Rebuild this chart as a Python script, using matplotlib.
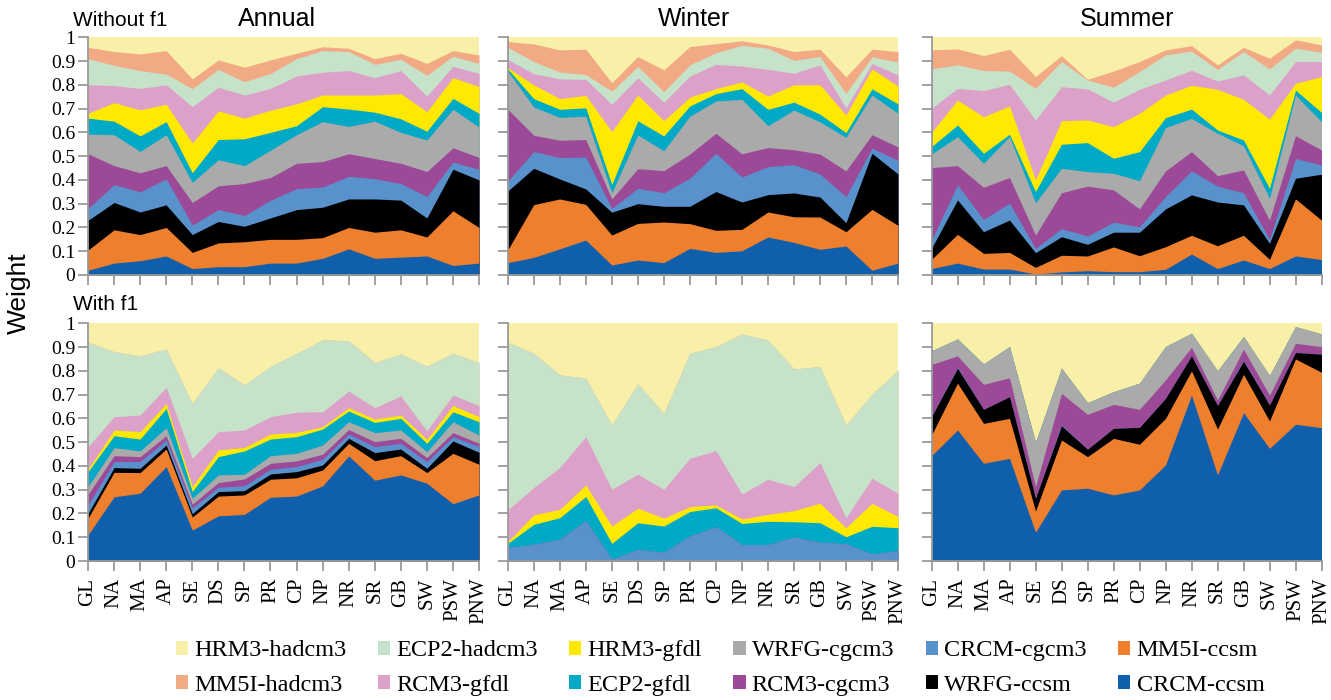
import numpy as np
import matplotlib
matplotlib.use("Agg")
import matplotlib.pyplot as plt
from matplotlib.patches import Patch

regions = ["GL", "NA", "MA", "AP", "SE", "DS", "SP", "PR", "CP", "NP", "NR", "SR", "GB", "SW", "PSW", "PNW"]

# stacking order, bottom to top
models = ["CRCM-ccsm", "MM5I-ccsm", "WRFG-ccsm", "CRCM-cgcm3", "RCM3-cgcm3", "WRFG-cgcm3",
          "ECP2-gfdl", "HRM3-gfdl", "RCM3-gfdl", "ECP2-hadcm3", "MM5I-hadcm3", "HRM3-hadcm3"]

model_colors = {
    "CRCM-ccsm": "#0F5FAD",
    "MM5I-ccsm": "#EE7F2D",
    "WRFG-ccsm": "#000000",
    "CRCM-cgcm3": "#5891CC",
    "RCM3-cgcm3": "#9C4A97",
    "WRFG-cgcm3": "#AAAAAA",
    "ECP2-gfdl": "#00A9C5",
    "HRM3-gfdl": "#FFE900",
    "RCM3-gfdl": "#DCA1C8",
    "ECP2-hadcm3": "#C6E3CA",
    "MM5I-hadcm3": "#F2AA84",
    "HRM3-hadcm3": "#F8F0A8",
}

annual_without = {
    "CRCM-ccsm":   [0.020, 0.050, 0.060, 0.080, 0.027, 0.035, 0.035, 0.050, 0.050, 0.070, 0.110, 0.070, 0.075, 0.080, 0.040, 0.050],
    "MM5I-ccsm":   [0.085, 0.140, 0.110, 0.120, 0.068, 0.100, 0.105, 0.100, 0.100, 0.087, 0.090, 0.110, 0.115, 0.080, 0.230, 0.150],
    "WRFG-ccsm":   [0.125, 0.115, 0.095, 0.095, 0.075, 0.090, 0.065, 0.090, 0.125, 0.128, 0.120, 0.140, 0.125, 0.080, 0.175, 0.200],
    "CRCM-cgcm3":  [0.050, 0.075, 0.085, 0.110, 0.040, 0.050, 0.045, 0.075, 0.088, 0.085, 0.095, 0.085, 0.070, 0.090, 0.030, 0.045],
    "RCM3-cgcm3":  [0.230, 0.080, 0.080, 0.055, 0.095, 0.100, 0.135, 0.095, 0.107, 0.107, 0.095, 0.085, 0.085, 0.105, 0.060, 0.050],
    "WRFG-cgcm3":  [0.083, 0.130, 0.090, 0.130, 0.085, 0.110, 0.075, 0.115, 0.120, 0.168, 0.115, 0.157, 0.130, 0.133, 0.162, 0.128],
    "ECP2-gfdl":   [0.067, 0.057, 0.065, 0.055, 0.040, 0.085, 0.113, 0.075, 0.038, 0.063, 0.073, 0.038, 0.057, 0.037, 0.046, 0.057],
    "HRM3-gfdl":   [0.020, 0.078, 0.110, 0.073, 0.125, 0.120, 0.087, 0.093, 0.092, 0.049, 0.059, 0.072, 0.106, 0.082, 0.087, 0.113],
    "RCM3-gfdl":   [0.120, 0.072, 0.090, 0.082, 0.153, 0.100, 0.097, 0.092, 0.117, 0.096, 0.103, 0.073, 0.097, 0.066, 0.048, 0.055],
    "ECP2-hadcm3": [0.110, 0.085, 0.075, 0.045, 0.076, 0.075, 0.056, 0.063, 0.073, 0.091, 0.080, 0.056, 0.047, 0.087, 0.042, 0.042],
    "MM5I-hadcm3": [0.048, 0.058, 0.070, 0.099, 0.041, 0.040, 0.061, 0.057, 0.023, 0.016, 0.014, 0.024, 0.026, 0.050, 0.024, 0.036],
    "HRM3-hadcm3": [0.042, 0.060, 0.070, 0.056, 0.175, 0.095, 0.126, 0.095, 0.067, 0.040, 0.046, 0.090, 0.067, 0.110, 0.056, 0.074],
}

winter_without = {
    "CRCM-ccsm":   [0.052, 0.074, 0.110, 0.147, 0.042, 0.063, 0.052, 0.112, 0.095, 0.102, 0.160, 0.137, 0.108, 0.122, 0.020, 0.050],
    "MM5I-ccsm":   [0.053, 0.222, 0.210, 0.150, 0.126, 0.154, 0.171, 0.104, 0.093, 0.090, 0.105, 0.108, 0.136, 0.060, 0.256, 0.159],
    "WRFG-ccsm":   [0.248, 0.153, 0.084, 0.065, 0.096, 0.083, 0.066, 0.073, 0.163, 0.115, 0.073, 0.100, 0.084, 0.038, 0.236, 0.216],
    "CRCM-cgcm3":  [0.042, 0.070, 0.090, 0.134, 0.016, 0.065, 0.057, 0.118, 0.161, 0.105, 0.118, 0.119, 0.097, 0.110, 0.022, 0.057],
    "RCM3-cgcm3":  [0.303, 0.069, 0.073, 0.074, 0.040, 0.082, 0.093, 0.102, 0.084, 0.098, 0.080, 0.063, 0.084, 0.108, 0.056, 0.057],
    "WRFG-cgcm3":  [0.160, 0.119, 0.096, 0.098, 0.026, 0.142, 0.084, 0.159, 0.136, 0.229, 0.092, 0.167, 0.135, 0.141, 0.167, 0.141],
    "ECP2-gfdl":   [0.009, 0.035, 0.034, 0.035, 0.035, 0.060, 0.062, 0.043, 0.031, 0.045, 0.069, 0.033, 0.033, 0.020, 0.026, 0.040],
    "HRM3-gfdl":   [0.005, 0.058, 0.045, 0.053, 0.222, 0.108, 0.064, 0.037, 0.021, 0.028, 0.056, 0.073, 0.123, 0.074, 0.084, 0.075],
    "RCM3-gfdl":   [0.035, 0.047, 0.083, 0.067, 0.115, 0.073, 0.078, 0.089, 0.102, 0.067, 0.112, 0.049, 0.084, 0.030, 0.023, 0.047],
    "ECP2-hadcm3": [0.051, 0.051, 0.029, 0.020, 0.055, 0.047, 0.044, 0.047, 0.049, 0.087, 0.089, 0.054, 0.035, 0.061, 0.027, 0.054],
    "MM5I-hadcm3": [0.024, 0.074, 0.093, 0.107, 0.036, 0.042, 0.092, 0.077, 0.038, 0.019, 0.014, 0.037, 0.031, 0.070, 0.033, 0.044],
    "HRM3-hadcm3": [0.018, 0.028, 0.053, 0.050, 0.191, 0.081, 0.137, 0.039, 0.027, 0.015, 0.032, 0.060, 0.050, 0.166, 0.050, 0.060],
}

summer_without = {
    "CRCM-ccsm":   [0.027, 0.050, 0.025, 0.025, 0.004, 0.013, 0.018, 0.014, 0.014, 0.024, 0.088, 0.027, 0.063, 0.027, 0.080, 0.065],
    "MM5I-ccsm":   [0.039, 0.121, 0.066, 0.070, 0.028, 0.070, 0.062, 0.104, 0.067, 0.095, 0.079, 0.096, 0.104, 0.039, 0.240, 0.166],
    "WRFG-ccsm":   [0.046, 0.145, 0.091, 0.136, 0.062, 0.078, 0.049, 0.062, 0.099, 0.159, 0.170, 0.184, 0.128, 0.067, 0.087, 0.193],
    "CRCM-cgcm3":  [0.035, 0.063, 0.052, 0.071, 0.018, 0.034, 0.035, 0.042, 0.023, 0.052, 0.101, 0.067, 0.051, 0.017, 0.083, 0.039],
    "RCM3-cgcm3":  [0.305, 0.081, 0.135, 0.108, 0.056, 0.151, 0.210, 0.136, 0.075, 0.108, 0.081, 0.044, 0.096, 0.081, 0.096, 0.063],
    "WRFG-cgcm3":  [0.057, 0.122, 0.101, 0.172, 0.136, 0.103, 0.061, 0.070, 0.119, 0.182, 0.140, 0.178, 0.102, 0.092, 0.171, 0.119],
    "ECP2-gfdl":   [0.031, 0.049, 0.042, 0.010, 0.047, 0.101, 0.122, 0.063, 0.122, 0.042, 0.039, 0.014, 0.024, 0.042, 0.021, 0.039],
    "HRM3-gfdl":   [0.060, 0.105, 0.154, 0.119, 0.049, 0.099, 0.095, 0.133, 0.161, 0.095, 0.100, 0.171, 0.171, 0.291, 0.028, 0.151],
    "RCM3-gfdl":   [0.101, 0.049, 0.110, 0.091, 0.252, 0.143, 0.131, 0.103, 0.101, 0.063, 0.063, 0.035, 0.103, 0.101, 0.092, 0.063],
    "ECP2-hadcm3": [0.166, 0.099, 0.084, 0.056, 0.133, 0.106, 0.037, 0.063, 0.075, 0.106, 0.081, 0.049, 0.098, 0.110, 0.056, 0.039],
    "MM5I-hadcm3": [0.080, 0.067, 0.063, 0.092, 0.050, 0.025, 0.003, 0.068, 0.042, 0.021, 0.023, 0.019, 0.018, 0.045, 0.035, 0.031],
    "HRM3-hadcm3": [0.053, 0.049, 0.077, 0.050, 0.165, 0.077, 0.177, 0.142, 0.102, 0.053, 0.035, 0.116, 0.042, 0.088, 0.011, 0.032],
}

annual_with = {
    "CRCM-ccsm":   [0.110, 0.270, 0.285, 0.397, 0.130, 0.190, 0.196, 0.268, 0.273, 0.316, 0.442, 0.340, 0.362, 0.327, 0.241, 0.278],
    "MM5I-ccsm":   [0.070, 0.103, 0.087, 0.074, 0.055, 0.083, 0.082, 0.076, 0.077, 0.067, 0.053, 0.082, 0.081, 0.045, 0.212, 0.129],
    "WRFG-ccsm":   [0.020, 0.020, 0.018, 0.017, 0.014, 0.019, 0.018, 0.022, 0.026, 0.021, 0.021, 0.034, 0.028, 0.018, 0.052, 0.050],
    "CRCM-cgcm3":  [0.036, 0.025, 0.028, 0.021, 0.025, 0.018, 0.021, 0.020, 0.021, 0.024, 0.018, 0.025, 0.024, 0.028, 0.018, 0.024],
    "RCM3-cgcm3":  [0.044, 0.025, 0.021, 0.018, 0.015, 0.020, 0.028, 0.025, 0.024, 0.021, 0.019, 0.021, 0.021, 0.017, 0.017, 0.014],
    "WRFG-cgcm3":  [0.033, 0.034, 0.024, 0.034, 0.025, 0.032, 0.020, 0.032, 0.032, 0.039, 0.033, 0.038, 0.035, 0.025, 0.046, 0.035],
    "ECP2-gfdl":   [0.063, 0.050, 0.050, 0.081, 0.028, 0.077, 0.098, 0.070, 0.070, 0.067, 0.045, 0.043, 0.049, 0.035, 0.042, 0.056],
    "HRM3-gfdl":   [0.011, 0.024, 0.031, 0.020, 0.021, 0.028, 0.015, 0.021, 0.018, 0.010, 0.014, 0.014, 0.014, 0.017, 0.026, 0.021],
    "RCM3-gfdl":   [0.094, 0.056, 0.070, 0.069, 0.119, 0.077, 0.073, 0.073, 0.085, 0.063, 0.070, 0.048, 0.080, 0.036, 0.044, 0.047],
    "ECP2-hadcm3": [0.439, 0.274, 0.249, 0.161, 0.231, 0.269, 0.190, 0.211, 0.248, 0.302, 0.212, 0.190, 0.177, 0.272, 0.176, 0.181],
    "MM5I-hadcm3": [0.000, 0.000, 0.000, 0.000, 0.000, 0.000, 0.000, 0.000, 0.000, 0.000, 0.000, 0.000, 0.000, 0.000, 0.000, 0.000],
    "HRM3-hadcm3": [0.080, 0.119, 0.137, 0.108, 0.337, 0.187, 0.259, 0.182, 0.126, 0.070, 0.073, 0.165, 0.129, 0.180, 0.126, 0.165],
}

winter_with = {
    "CRCM-ccsm":   [0.000, 0.000, 0.000, 0.000, 0.000, 0.000, 0.000, 0.000, 0.000, 0.000, 0.000, 0.000, 0.000, 0.000, 0.000, 0.000],
    "MM5I-ccsm":   [0.000, 0.000, 0.000, 0.000, 0.000, 0.000, 0.000, 0.000, 0.000, 0.000, 0.000, 0.000, 0.000, 0.000, 0.000, 0.000],
    "WRFG-ccsm":   [0.000, 0.000, 0.000, 0.000, 0.000, 0.000, 0.000, 0.000, 0.000, 0.000, 0.000, 0.000, 0.000, 0.000, 0.000, 0.000],
    "CRCM-cgcm3":  [0.056, 0.070, 0.091, 0.170, 0.007, 0.049, 0.036, 0.105, 0.144, 0.069, 0.069, 0.100, 0.079, 0.072, 0.029, 0.043],
    "RCM3-cgcm3":  [0.000, 0.000, 0.000, 0.000, 0.000, 0.000, 0.000, 0.000, 0.000, 0.000, 0.000, 0.000, 0.000, 0.000, 0.000, 0.000],
    "WRFG-cgcm3":  [0.000, 0.000, 0.000, 0.000, 0.000, 0.000, 0.000, 0.000, 0.000, 0.000, 0.000, 0.000, 0.000, 0.000, 0.000, 0.000],
    "ECP2-gfdl":   [0.018, 0.084, 0.091, 0.101, 0.067, 0.112, 0.111, 0.103, 0.080, 0.089, 0.098, 0.065, 0.082, 0.030, 0.117, 0.097],
    "HRM3-gfdl":   [0.007, 0.040, 0.035, 0.049, 0.073, 0.061, 0.033, 0.021, 0.012, 0.019, 0.029, 0.047, 0.082, 0.038, 0.097, 0.047],
    "RCM3-gfdl":   [0.134, 0.115, 0.176, 0.203, 0.155, 0.143, 0.122, 0.203, 0.228, 0.105, 0.148, 0.101, 0.171, 0.042, 0.105, 0.098],
    "ECP2-hadcm3": [0.705, 0.565, 0.390, 0.246, 0.270, 0.380, 0.319, 0.442, 0.438, 0.673, 0.586, 0.495, 0.404, 0.390, 0.353, 0.519],
    "MM5I-hadcm3": [0.000, 0.000, 0.000, 0.000, 0.000, 0.000, 0.000, 0.000, 0.000, 0.000, 0.000, 0.000, 0.000, 0.000, 0.000, 0.000],
    "HRM3-hadcm3": [0.080, 0.126, 0.217, 0.231, 0.428, 0.255, 0.379, 0.126, 0.098, 0.045, 0.070, 0.192, 0.182, 0.428, 0.299, 0.196],
}

summer_with = {
    "CRCM-ccsm":   [0.443, 0.551, 0.411, 0.432, 0.121, 0.299, 0.306, 0.278, 0.299, 0.404, 0.698, 0.362, 0.624, 0.474, 0.575, 0.561],
    "MM5I-ccsm":   [0.087, 0.197, 0.168, 0.168, 0.089, 0.210, 0.133, 0.238, 0.192, 0.196, 0.102, 0.193, 0.161, 0.115, 0.275, 0.233],
    "WRFG-ccsm":   [0.077, 0.063, 0.059, 0.091, 0.054, 0.060, 0.031, 0.042, 0.071, 0.084, 0.063, 0.099, 0.056, 0.067, 0.027, 0.076],
    "CRCM-cgcm3":  [0.000, 0.004, 0.000, 0.000, 0.000, 0.004, 0.000, 0.000, 0.000, 0.000, 0.000, 0.000, 0.004, 0.000, 0.000, 0.000],
    "RCM3-cgcm3":  [0.220, 0.048, 0.105, 0.080, 0.049, 0.132, 0.147, 0.101, 0.076, 0.078, 0.036, 0.023, 0.046, 0.042, 0.039, 0.032],
    "WRFG-cgcm3":  [0.057, 0.071, 0.086, 0.131, 0.186, 0.106, 0.049, 0.053, 0.110, 0.140, 0.059, 0.123, 0.053, 0.082, 0.070, 0.053],
    "ECP2-gfdl":   [0.000, 0.000, 0.000, 0.000, 0.000, 0.000, 0.000, 0.000, 0.000, 0.000, 0.000, 0.000, 0.000, 0.000, 0.000, 0.000],
    "HRM3-gfdl":   [0.000, 0.000, 0.000, 0.000, 0.000, 0.000, 0.000, 0.000, 0.000, 0.000, 0.000, 0.000, 0.000, 0.000, 0.000, 0.000],
    "RCM3-gfdl":   [0.000, 0.000, 0.000, 0.000, 0.000, 0.000, 0.000, 0.000, 0.000, 0.000, 0.000, 0.000, 0.000, 0.000, 0.000, 0.000],
    "ECP2-hadcm3": [0.000, 0.000, 0.000, 0.000, 0.000, 0.000, 0.000, 0.000, 0.000, 0.000, 0.000, 0.000, 0.000, 0.000, 0.000, 0.000],
    "MM5I-hadcm3": [0.000, 0.000, 0.000, 0.000, 0.000, 0.000, 0.000, 0.000, 0.000, 0.000, 0.000, 0.000, 0.000, 0.000, 0.000, 0.000],
    "HRM3-hadcm3": [0.116, 0.066, 0.171, 0.098, 0.501, 0.189, 0.334, 0.288, 0.252, 0.098, 0.042, 0.200, 0.056, 0.220, 0.014, 0.045],
}

season_titles = ["Annual", "Winter", "Summer"]
ytick_values = [0, 0.1, 0.2, 0.3, 0.4, 0.5, 0.6, 0.7, 0.8, 0.9, 1]
ytick_labels = ["0", "0.1", "0.2", "0.3", "0.4", "0.5", "0.6", "0.7", "0.8", "0.9", "1"]

SERIF = "Liberation Serif"
SANS = "Liberation Sans"
AXIS_GRAY = "#9A9A9A"

W, H = 1331, 700
fig = plt.figure(figsize=(W / 100, H / 100), dpi=100)
fig.patch.set_facecolor("white")

col_left = [88, 507.7, 931.5]
col_right = [479, 898, 1321.5]
row_top = [37.3, 323.3]
row_bottom = [275, 561]

panels = [[annual_without, winter_without, summer_without],
          [annual_with, winter_with, summer_with]]

x = np.arange(len(regions))

for r in range(2):
    for c in range(3):
        left = col_left[c] / W
        width = (col_right[c] - col_left[c]) / W
        bottom = 1 - row_bottom[r] / H
        height = (row_bottom[r] - row_top[r]) / H
        ax = fig.add_axes([left, bottom, width, height])
        data = panels[r][c]
        stack = np.cumsum(np.array([data[m] for m in models]), axis=0)
        # paint from the top layer down so adjacent layers share one clean edge
        for i in range(len(models) - 1, -1, -1):
            ax.fill_between(x, 0, stack[i], color=model_colors[models[i]], linewidth=0)
        ax.set_xlim(0, len(regions) - 1)
        ax.set_ylim(0, 1)
        for side in ("top", "right"):
            ax.spines[side].set_visible(False)
        for side in ("left", "bottom"):
            ax.spines[side].set_color(AXIS_GRAY)
            ax.spines[side].set_linewidth(1.3)
        ax.set_yticks(ytick_values)
        ax.set_xticks(x)
        ax.tick_params(axis="both", direction="out", color=AXIS_GRAY, length=7, width=1.3)
        if c == 0:
            ax.set_yticklabels(ytick_labels, fontfamily=SERIF, fontsize=14)
            ax.tick_params(axis="y", pad=2)
        else:
            ax.set_yticklabels([])
        if r == 1:
            ax.set_xticklabels(regions, rotation=90, fontfamily=SERIF, fontsize=15)
            ax.tick_params(axis="x", pad=5)
        else:
            ax.set_xticklabels([])

title_x = [277, 694, 1127]
for c in range(3):
    fig.text(title_x[c] / W, 1 - 19 / H, season_titles[c], ha="center", va="center",
             fontfamily=SANS, fontsize=18)

fig.text(73 / W, 1 - 21 / H, "Without f1", ha="left", va="center", fontfamily=SANS, fontsize=15)
fig.text(73 / W, 1 - 304 / H, "With f1", ha="left", va="center", fontfamily=SANS, fontsize=15)
fig.text(19 / W, 1 - 293 / H, "Weight", ha="center", va="center", rotation=90,
         fontfamily=SANS, fontsize=19)

legend_order = ["HRM3-hadcm3", "MM5I-hadcm3", "ECP2-hadcm3", "RCM3-gfdl", "HRM3-gfdl", "ECP2-gfdl",
                "WRFG-cgcm3", "RCM3-cgcm3", "CRCM-cgcm3", "WRFG-ccsm", "MM5I-ccsm", "CRCM-ccsm"]
handles = [Patch(facecolor=model_colors[m], edgecolor="none") for m in legend_order]
fig.legend(handles, legend_order, ncol=6, loc="center", bbox_to_anchor=(720 / W, 1 - 668 / H),
           frameon=False, prop={"family": SERIF, "size": 17.5}, handlelength=0.5,
           handleheight=0.5, handletextpad=0.25, columnspacing=1.3, labelspacing=0.55,
           borderpad=0.0)

fig.savefig("out.png", dpi=100, facecolor="white")
